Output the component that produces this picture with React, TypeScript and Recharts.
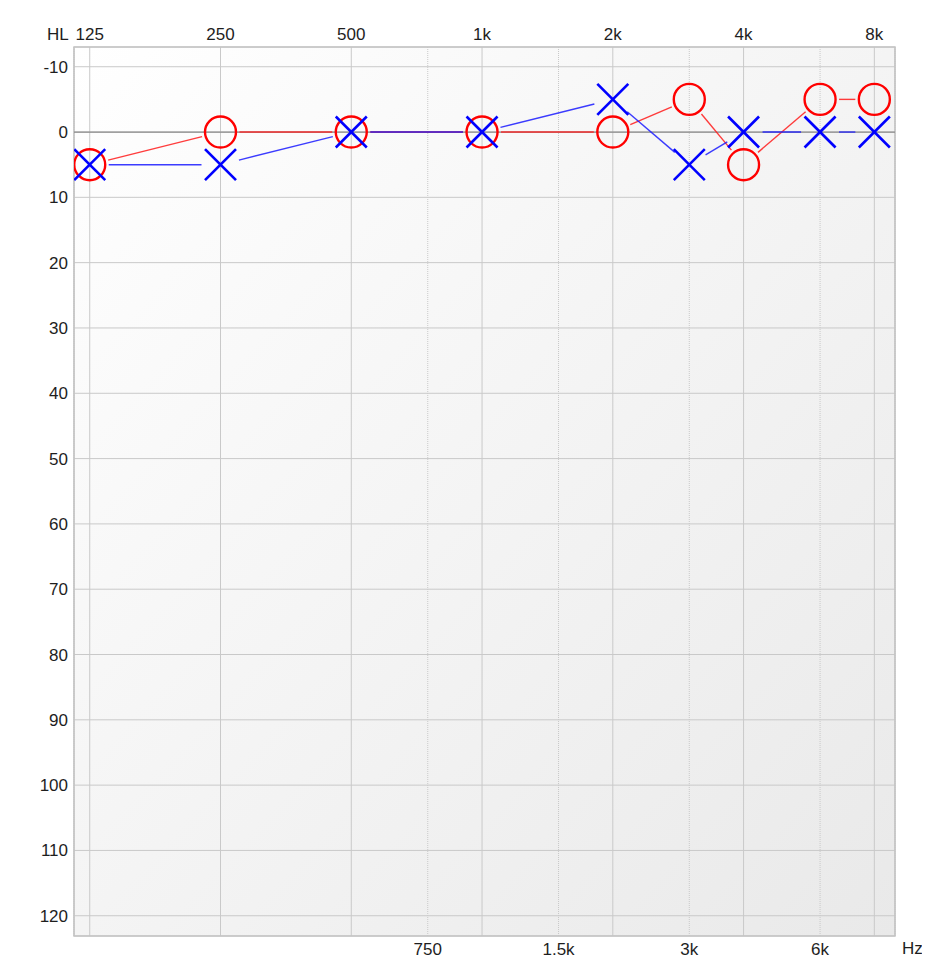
import React from 'react';
import {
  LineChart, Line, XAxis, YAxis, CartesianGrid, ReferenceLine, ReferenceArea,
} from 'recharts';

const FREQS = [125, 250, 500, 1000, 2000, 3000, 4000, 6000, 8000];
const RIGHT_EAR = [5, 0, 0, 0, 0, -5, 5, -5, -5];
const LEFT_EAR = [5, 5, 0, 0, -5, 5, 0, 0, 0];

const TOP_TICKS = [125, 250, 500, 1000, 2000, 4000, 8000];
const TOP_LABELS = ['125', '250', '500', '1k', '2k', '4k', '8k'];
const BOTTOM_TICKS = [750, 1500, 3000, 6000];
const BOTTOM_LABELS = ['750', '1.5k', '3k', '6k'];
const DB_TICKS = [-10, 0, 10, 20, 30, 40, 50, 60, 70, 80, 90, 100, 110, 120];

const X_DOMAIN = [115, 8926];
const Y_DOMAIN = [-13.02, 123.1];

const data = FREQS.map((f, i) => ({ f, right: RIGHT_EAR[i], left: LEFT_EAR[i] }));

const FONT = '"Liberation Sans", Arial, sans-serif';
const tickStyle = { fill: '#1e1e1e', fontSize: 17, fontFamily: FONT };

const RED = '#ff1a1a';
const BLUE = '#1a1aff';
const GAP = 19;

const makeShape = (color: string) => (props: any) => {
  const { x1, y1, x2, y2 } = props;
  const dx = x2 - x1;
  const dy = y2 - y1;
  const L = Math.hypot(dx, dy);
  if (!isFinite(L) || L <= 2 * GAP) return <g />;
  const ux = dx / L;
  const uy = dy / L;
  return (
    <line
      x1={x1 + ux * GAP}
      y1={y1 + uy * GAP}
      x2={x2 - ux * GAP}
      y2={y2 - uy * GAP}
      stroke={color}
      strokeWidth={1.4}
      strokeOpacity={0.85}
    />
  );
};

const redShape = makeShape(RED);
const blueShape = makeShape(BLUE);

const CircleDot = (props: any) => {
  const { cx, cy, index } = props;
  if (cx == null || cy == null) return <g key={`c${index}`} />;
  return <circle key={`c${index}`} cx={cx} cy={cy} r={15.5} fill="none" stroke="#ff0000" strokeWidth={2.4} />;
};

const CrossDot = (props: any) => {
  const { cx, cy, index } = props;
  if (cx == null || cy == null) return <g key={`x${index}`} />;
  const s = 15.5;
  return (
    <g key={`x${index}`}>
      <line x1={cx - s} y1={cy - s} x2={cx + s} y2={cy + s} stroke="#0000ff" strokeWidth={2.6} />
      <line x1={cx - s} y1={cy + s} x2={cx + s} y2={cy - s} stroke="#0000ff" strokeWidth={2.6} />
    </g>
  );
};

const topFmt = (v: number) => TOP_LABELS[TOP_TICKS.indexOf(v)] ?? String(v);
const botFmt = (v: number) => BOTTOM_LABELS[BOTTOM_TICKS.indexOf(v)] ?? String(v);

export default function App() {
  const redSegs = FREQS.slice(0, -1).map((f, i) => (
    <ReferenceLine
      key={`rs${i}`}
      xAxisId="top"
      segment={[{ x: f, y: RIGHT_EAR[i] }, { x: FREQS[i + 1], y: RIGHT_EAR[i + 1] }]}
      shape={redShape}
      ifOverflow="visible"
    />
  ));
  const blueSegs = FREQS.slice(0, -1).map((f, i) => (
    <ReferenceLine
      key={`bs${i}`}
      xAxisId="top"
      segment={[{ x: f, y: LEFT_EAR[i] }, { x: FREQS[i + 1], y: LEFT_EAR[i + 1] }]}
      shape={blueShape}
      ifOverflow="visible"
    />
  ));

  return (
    <div style={{ position: 'relative', margin: -8, width: 930, height: 971, fontFamily: FONT }}>
      <div style={{ position: 'absolute', left: 18, top: 6, width: 912, height: 1, background: '#dcdcdc' }} />
      <span style={{ position: 'absolute', left: 47, top: 25, fontSize: 17, color: '#1e1e1e', lineHeight: '20px' }}>HL</span>
      <span style={{ position: 'absolute', left: 902, top: 939, fontSize: 17, color: '#1e1e1e', lineHeight: '20px' }}>Hz</span>
      <div style={{ position: 'absolute', left: 0, top: 0 }}>
        <LineChart width={930} height={971} data={data} margin={{ top: 0, right: 35, bottom: 0, left: 0 }}>
          <defs>
            <linearGradient id="bgGrad" x1="0" y1="0" x2="1" y2="1">
              <stop offset="0%" stopColor="#ffffff" />
              <stop offset="100%" stopColor="#e9e9e9" />
            </linearGradient>
          </defs>
          <XAxis
            xAxisId="top"
            orientation="top"
            type="number"
            dataKey="f"
            scale="log"
            domain={X_DOMAIN}
            allowDataOverflow
            ticks={TOP_TICKS}
            interval={0}
            tickFormatter={topFmt}
            axisLine={false}
            tickLine={false}
            tickSize={4}
            tickMargin={3.5}
            height={47}
            tick={tickStyle}
          />
          <XAxis
            xAxisId="bottom"
            orientation="bottom"
            type="number"
            dataKey="f"
            scale="log"
            domain={X_DOMAIN}
            allowDataOverflow
            ticks={BOTTOM_TICKS}
            interval={0}
            tickFormatter={botFmt}
            axisLine={false}
            tickLine={false}
            tickSize={5}
            tickMargin={2}
            height={35}
            tick={tickStyle}
          />
          <YAxis
            type="number"
            reversed
            domain={Y_DOMAIN}
            allowDataOverflow
            ticks={DB_TICKS}
            interval={0}
            axisLine={false}
            tickLine={false}
            tickSize={6}
            tickMargin={0}
            width={74}
            tick={tickStyle}
          />
          <CartesianGrid xAxisId="top" stroke="#c9c9c9" fill="url(#bgGrad)" fillOpacity={1} />
          <CartesianGrid xAxisId="bottom" horizontal={false} stroke="#c9c9c9" strokeDasharray="1 1" />
          <ReferenceLine xAxisId="top" y={0} stroke="#8a8a8a" strokeWidth={1.2} />
          <ReferenceArea
            xAxisId="top"
            x1={X_DOMAIN[0]}
            x2={X_DOMAIN[1]}
            y1={Y_DOMAIN[0]}
            y2={Y_DOMAIN[1]}
            fill="none"
            stroke="#c4c4c4"
            strokeWidth={1.5}
            ifOverflow="visible"
          />
          {redSegs}
          {blueSegs}
          <Line
            xAxisId="top"
            dataKey="right"
            stroke="none"
            dot={CircleDot}
            activeDot={false}
            isAnimationActive={false}
          />
          <Line
            xAxisId="top"
            dataKey="left"
            stroke="none"
            dot={CrossDot}
            activeDot={false}
            isAnimationActive={false}
          />
        </LineChart>
      </div>
    </div>
  );
}
